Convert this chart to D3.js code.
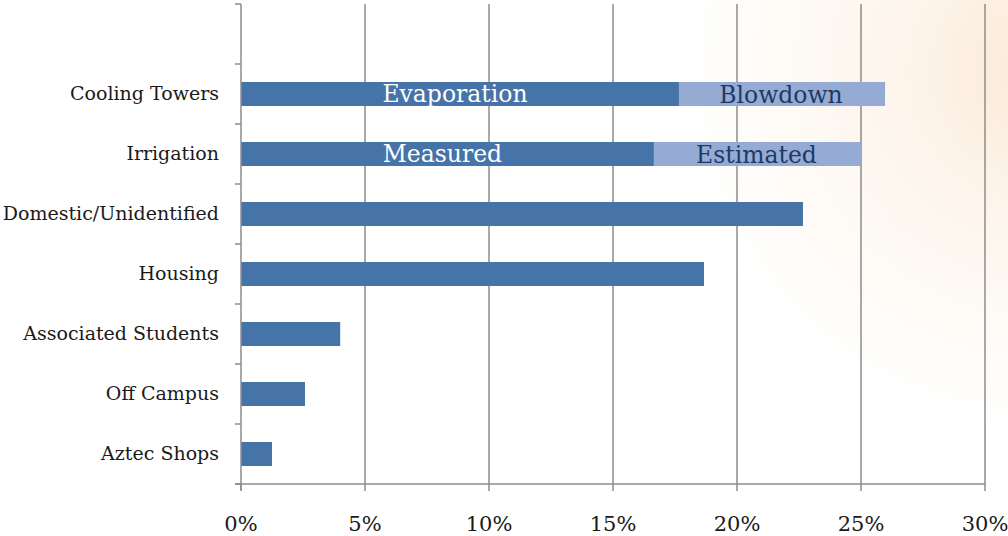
<!DOCTYPE html>
<html>
<head>
<meta charset="utf-8">
<script src="https://cdn.jsdelivr.net/npm/d3@7"></script>
<style>
  html, body { margin: 0; padding: 0; background: #fff; }
  svg { display: block; }
  text { font-family: "DejaVu Serif", "Liberation Serif", serif; }
</style>
</head>
<body>
<div id="chart"></div>
<script>
// --- data ---------------------------------------
var categories = ["Cooling Towers", "Irrigation", "Domestic/Unidentified", "Housing",
                  "Associated Students", "Off Campus", "Aztec Shops"]
var baseValues  = [0.1766, 0.1665, 0.2266, 0.1867, 0.0400, 0.0258, 0.0125]
var extraValues = [0.0831, 0.0835, 0, 0, 0, 0, 0]
var baseLabels  = ["Evaporation", "Measured", "", "", "", "", ""]
var extraLabels = ["Blowdown", "Estimated", "", "", "", "", ""]
var xTicks = [0, 0.05, 0.10, 0.15, 0.20, 0.25, 0.30]

var width = 1008, height = 536
var dark = "#4673a8", light = "#95abd3"

var svg = d3.select("#chart").append("svg")
  .attr("width", width)
  .attr("height", height)

// faint warm glow in the top right corner
var defs = svg.append("defs")
var grad = defs.append("radialGradient")
  .attr("id", "glow")
  .attr("gradientUnits", "userSpaceOnUse")
  .attr("cx", 1040).attr("cy", 70).attr("r", 360)
grad.append("stop").attr("offset", "0%").attr("stop-color", "#fbe9d6")
grad.append("stop").attr("offset", "40%").attr("stop-color", "#fdf5ec")
grad.append("stop").attr("offset", "100%").attr("stop-color", "#ffffff")

svg.append("rect")
  .attr("width", width).attr("height", height)
  .attr("fill", "url(#glow)")

// --- scales ---------------------------------------
var x = d3.scaleLinear().domain([0, 0.30]).range([241, 985])

// top slot is left empty, as in the original
var slot = d3.scaleBand().domain([""].concat(categories)).range([4, 484])
var y = d3.scaleBand()
  .domain(slot.domain())
  .range([4, 484])
  .paddingInner(0.6)
  .paddingOuter(0.3)

// gridlines
svg.append("g")
  .selectAll("line")
  .data(xTicks.slice(1))
  .enter().append("line")
    .attr("x1", (d) => x(d)).attr("x2", (d) => x(d))
    .attr("y1", 4).attr("y2", 484)
    .attr("stroke", "#8c8c8c")
    .attr("stroke-width", 1.5)

// bars
var rows = categories.map((c, i) => ({
  cat: c, base: baseValues[i], extra: extraValues[i],
  baseLabel: baseLabels[i], extraLabel: extraLabels[i]
}))

var bars = svg.append("g")
bars.selectAll("rect.base")
  .data(rows)
  .enter().append("rect")
    .attr("class", "base")
    .attr("x", x(0))
    .attr("y", (d) => y(d.cat))
    .attr("width", (d) => x(d.base) - x(0))
    .attr("height", y.bandwidth())
    .attr("fill", dark)

bars.selectAll("rect.extra")
  .data(rows.filter((d) => d.extra > 0))
  .enter().append("rect")
    .attr("class", "extra")
    .attr("x", (d) => x(d.base))
    .attr("y", (d) => y(d.cat))
    .attr("width", (d) => x(d.base + d.extra) - x(d.base))
    .attr("height", y.bandwidth())
    .attr("fill", light)

// in-bar labels
bars.selectAll("text.baseLabel")
  .data(rows.filter((d) => d.baseLabel))
  .enter().append("text")
    .attr("x", (d) => (x(0) + x(d.base)) / 2 - 5)
    .attr("y", (d) => y(d.cat) + y.bandwidth() / 2 + 8)
    .attr("text-anchor", "middle")
    .style("font-size", "23.5px")
    .style("fill", "#ffffff")
    .text((d) => d.baseLabel)

bars.selectAll("text.extraLabel")
  .data(rows.filter((d) => d.extraLabel))
  .enter().append("text")
    .attr("x", (d) => (x(d.base) + x(d.base + d.extra)) / 2 - 1)
    .attr("y", (d) => y(d.cat) + y.bandwidth() / 2 + 9)
    .attr("text-anchor", "middle")
    .style("font-size", "23.5px")
    .style("fill", "#1c3a66")
    .text((d) => d.extraLabel)

// left axis
var axisColor = "#8c8c8c"
var left = svg.append("g")
left.append("line")
  .attr("x1", x(0)).attr("x2", x(0))
  .attr("y1", 4).attr("y2", 490)
  .attr("stroke", axisColor).attr("stroke-width", 1.5)

var bounds = slot.domain().map((d) => slot(d)).concat([484])
left.selectAll("line.tick")
  .data(bounds)
  .enter().append("line")
    .attr("x1", x(0) - 6).attr("x2", x(0))
    .attr("y1", (d) => d).attr("y2", (d) => d)
    .attr("stroke", axisColor).attr("stroke-width", 1.5)

left.selectAll("text")
  .data(categories)
  .enter().append("text")
    .attr("x", 219)
    .attr("y", (d) => slot(d) + slot.bandwidth() / 2 + 6)
    .attr("text-anchor", "end")
    .style("font-size", "19px")
    .style("fill", "#1a1a1a")
    .text((d) => d)

// bottom axis
var bottom = svg.append("g")
bottom.append("line")
  .attr("x1", x(0) - 6).attr("x2", x(0.30))
  .attr("y1", 484).attr("y2", 484)
  .attr("stroke", axisColor).attr("stroke-width", 1.5)

bottom.selectAll("line.tick")
  .data(xTicks)
  .enter().append("line")
    .attr("x1", (d) => x(d)).attr("x2", (d) => x(d))
    .attr("y1", 484).attr("y2", 491)
    .attr("stroke", axisColor).attr("stroke-width", 1.5)

var fmt = d3.format(".0%")
bottom.selectAll("text")
  .data(xTicks)
  .enter().append("text")
    .attr("x", (d) => x(d))
    .attr("y", 531)
    .attr("text-anchor", "middle")
    .style("font-size", "21px")
    .style("fill", "#1a1a1a")
    .text((d) => fmt(d))
</script>
</body>
</html>
